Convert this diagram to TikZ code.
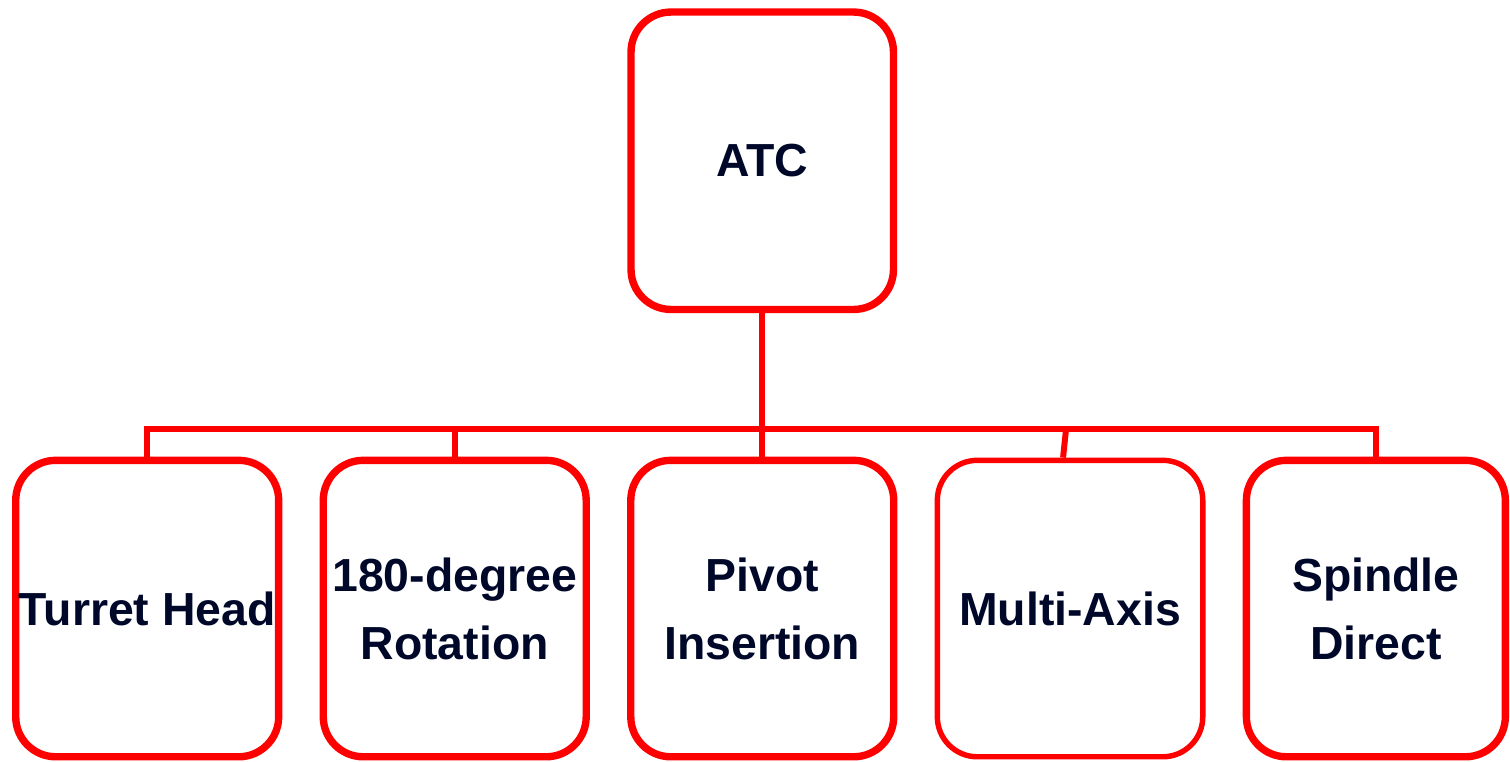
\documentclass[tikz,border=0pt]{standalone}
\usepackage{fontspec}
\setmainfont{Liberation Sans}
\usetikzlibrary{positioning, calc}

\definecolor{boxred}{RGB}{255,0,0}
\definecolor{inkblue}{RGB}{0,8,42}

\begin{document}
\begin{tikzpicture}[x=0.02cm, y=-0.02cm, node distance=0.744cm]
        \tikzstyle{box} = [rectangle, rounded corners=0.8cm, minimum width=5.26cm, minimum height=5.93cm, inner sep=0pt, text centered, align=center, draw=boxred, line width=4.2pt, text=inkblue, font=\fontsize{26.4}{38.6}\selectfont\bfseries]
        \tikzstyle{thinbox} = [box, line width=3.1pt, minimum width=5.31cm]
        \tikzstyle{link} = [draw=boxred, line width=3.4pt]

        \useasboundingbox (0,0) rectangle (1510,761);

        \node (atc) [box, minimum width=5.25cm, minimum height=5.95cm] at (762.25,160.75) {ATC};
        \node (pivot) [box, below=2.87cm of atc] {Pivot\\Insertion};
        \node (rotation) [box, left=of pivot] {180-degree\\Rotation};
        \node (turret) [box, left=of rotation] {Turret Head};
        \node (multiaxis) [thinbox, right=of pivot] {Multi-Axis};
        \node (spindle) [box, minimum width=5.18cm, right=of multiaxis] {Spindle\\Direct};

        \coordinate (busline) at (0,429);
        \coordinate (tap) at ($(multiaxis.north |- busline)+(-4,0)$);

        \draw [link] (atc.south) -- (atc.south |- busline);
        \draw [link] (turret.north) |- (spindle.north |- busline) -- (spindle.north);
        \draw [link] (rotation.north) -- (rotation.north |- busline);
        \draw [link] (pivot.north) -- (pivot.north |- busline);
        \draw [link] ($(multiaxis.north)+(-7,0)$) -- (tap);
    \end{tikzpicture}
\end{document}
